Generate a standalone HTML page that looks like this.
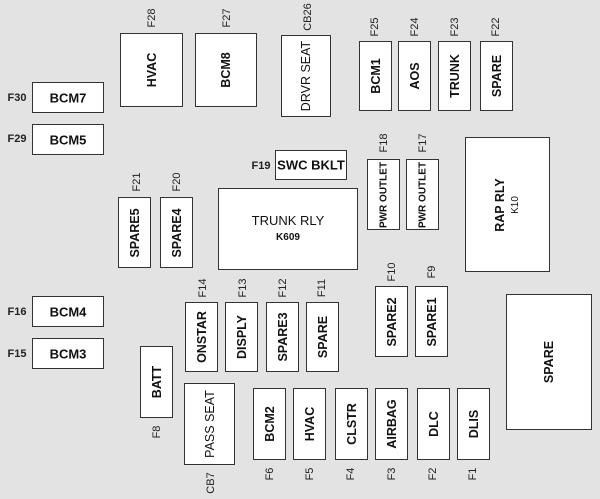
<!DOCTYPE html>
<html><head><style>
body{margin:0;width:600px;height:499px;background:#e3e3e3;position:relative;overflow:hidden;font-family:"Liberation Sans",Arial,sans-serif;}
.b{position:absolute;background:#fff;border:1.5px solid #333;box-sizing:border-box;}
.t{position:absolute;left:50%;top:50%;white-space:nowrap;font-size:12.5px;font-weight:bold;color:#111;transform:translate(-50%,-50%) rotate(-90deg);}
.h{position:absolute;left:50%;top:50%;white-space:nowrap;font-size:13px;font-weight:bold;color:#111;transform:translate(-50%,-50%);}
.l{position:absolute;font-size:11px;color:#222;white-space:nowrap;transform:translate(-50%,-50%) rotate(-90deg);}
.lh{position:absolute;font-size:11px;font-weight:bold;color:#222;white-space:nowrap;transform:translate(-50%,-50%);}
</style></head><body>
<div class="b" style="left:120px;top:33px;width:63px;height:74px"><span class="t">HVAC</span></div><span class="l" style="left:152px;top:18px">F28</span>
<div class="b" style="left:195px;top:33px;width:62px;height:74px"><span class="t">BCM8</span></div><span class="l" style="left:227px;top:18px">F27</span>
<div class="b" style="left:281px;top:35px;width:50px;height:82px"><span class="t" style="font-weight:normal">DRVR SEAT</span></div><span class="l" style="left:308px;top:17px">CB26</span>
<div class="b" style="left:359px;top:41px;width:33px;height:70px"><span class="t">BCM1</span></div><span class="l" style="left:375px;top:27px">F25</span>
<div class="b" style="left:398px;top:41px;width:33px;height:70px"><span class="t">AOS</span></div><span class="l" style="left:415px;top:27px">F24</span>
<div class="b" style="left:438px;top:41px;width:33px;height:70px"><span class="t">TRUNK</span></div><span class="l" style="left:455px;top:27px">F23</span>
<div class="b" style="left:480px;top:41px;width:33px;height:70px"><span class="t">SPARE</span></div><span class="l" style="left:496px;top:27px">F22</span>
<div class="b" style="left:32px;top:82px;width:72px;height:31px"><span class="h">BCM7</span></div><span class="lh" style="left:17px;top:98px">F30</span>
<div class="b" style="left:32px;top:124px;width:72px;height:31px"><span class="h">BCM5</span></div><span class="lh" style="left:17px;top:139px">F29</span>
<div class="b" style="left:275px;top:150px;width:72px;height:30px"><span class="h">SWC BKLT</span></div><span class="lh" style="left:261px;top:166px">F19</span>
<div class="b" style="left:367px;top:159px;width:33px;height:71px"><span class="t" style="font-size:10px">PWR OUTLET</span></div><span class="l" style="left:384px;top:143px">F18</span>
<div class="b" style="left:406px;top:159px;width:33px;height:71px"><span class="t" style="font-size:10px">PWR OUTLET</span></div><span class="l" style="left:423px;top:143px">F17</span>
<div class="b" style="left:465px;top:137px;width:85px;height:135px"><span class="t" style="text-align:center;line-height:14px">RAP RLY<br><span style="font-size:10px;font-weight:normal">K10</span></span></div>
<div class="b" style="left:218px;top:188px;width:140px;height:82px"><span class="h" style="text-align:center;line-height:15px;font-weight:normal">TRUNK RLY<br><span style="font-size:10px;font-weight:bold">K609</span></span></div>
<div class="b" style="left:118px;top:197px;width:33px;height:71px"><span class="t">SPARE5</span></div><span class="l" style="left:137px;top:182px">F21</span>
<div class="b" style="left:160px;top:197px;width:33px;height:71px"><span class="t">SPARE4</span></div><span class="l" style="left:177px;top:182px">F20</span>
<div class="b" style="left:32px;top:296px;width:72px;height:31px"><span class="h">BCM4</span></div><span class="lh" style="left:17px;top:312px">F16</span>
<div class="b" style="left:32px;top:338px;width:72px;height:31px"><span class="h">BCM3</span></div><span class="lh" style="left:17px;top:354px">F15</span>
<div class="b" style="left:185px;top:302px;width:33px;height:70px"><span class="t">ONSTAR</span></div><span class="l" style="left:203px;top:288px">F14</span>
<div class="b" style="left:225px;top:302px;width:33px;height:70px"><span class="t">DISPLY</span></div><span class="l" style="left:243px;top:288px">F13</span>
<div class="b" style="left:266px;top:302px;width:33px;height:70px"><span class="t">SPARE3</span></div><span class="l" style="left:283px;top:288px">F12</span>
<div class="b" style="left:306px;top:302px;width:33px;height:70px"><span class="t">SPARE</span></div><span class="l" style="left:322px;top:288px">F11</span>
<div class="b" style="left:375px;top:286px;width:33px;height:71px"><span class="t">SPARE2</span></div><span class="l" style="left:392px;top:272px">F10</span>
<div class="b" style="left:415px;top:286px;width:33px;height:71px"><span class="t">SPARE1</span></div><span class="l" style="left:432px;top:272px">F9</span>
<div class="b" style="left:506px;top:294px;width:86px;height:136px"><span class="t">SPARE</span></div>
<div class="b" style="left:140px;top:346px;width:33px;height:72px"><span class="t">BATT</span></div><span class="l" style="left:157px;top:432px">F8</span>
<div class="b" style="left:184px;top:383px;width:51px;height:82px"><span class="t" style="font-weight:normal">PASS SEAT</span></div><span class="l" style="left:211px;top:483px">CB7</span>
<div class="b" style="left:253px;top:388px;width:33px;height:72px"><span class="t">BCM2</span></div><span class="l" style="left:270px;top:474px">F6</span>
<div class="b" style="left:293px;top:388px;width:33px;height:72px"><span class="t">HVAC</span></div><span class="l" style="left:310px;top:474px">F5</span>
<div class="b" style="left:335px;top:388px;width:33px;height:72px"><span class="t">CLSTR</span></div><span class="l" style="left:351px;top:474px">F4</span>
<div class="b" style="left:375px;top:388px;width:33px;height:72px"><span class="t">AIRBAG</span></div><span class="l" style="left:392px;top:474px">F3</span>
<div class="b" style="left:417px;top:388px;width:33px;height:72px"><span class="t">DLC</span></div><span class="l" style="left:433px;top:474px">F2</span>
<div class="b" style="left:457px;top:388px;width:33px;height:72px"><span class="t">DLIS</span></div><span class="l" style="left:473px;top:474px">F1</span>
</body></html>
